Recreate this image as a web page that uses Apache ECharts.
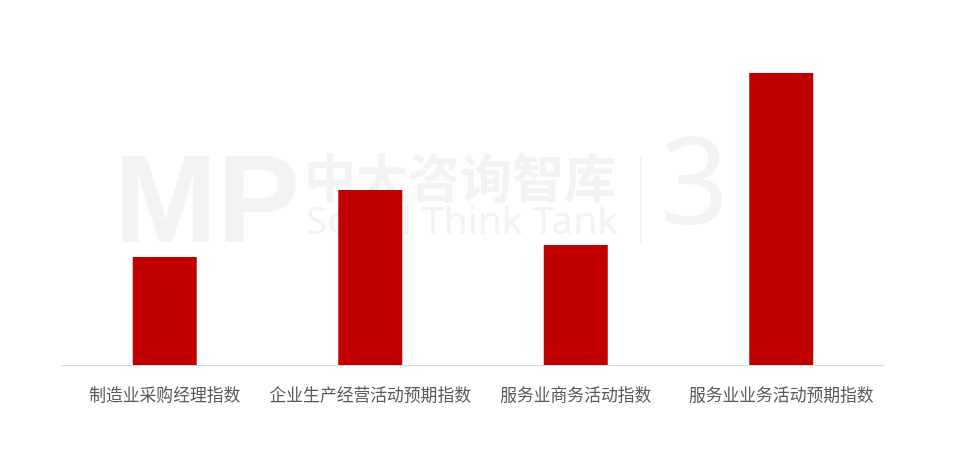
<!DOCTYPE html>
<html>
<head>
<meta charset="utf-8">
<script src="https://cdn.jsdelivr.net/npm/echarts@6/dist/echarts.min.js"></script>
<style>
html,body{margin:0;padding:0;background:#fff;}
#chart{width:980px;height:453px;}
</style>
</head>
<body>
<div id="chart"></div>
<script>
const categories = ['制造业采购经理指数', '企业生产经营活动预期指数', '服务业商务活动指数', '服务业业务活动预期指数'];
const values = [10.8, 17.5, 12.0, 29.2];

const chart = echarts.init(document.getElementById('chart'));
const wmColor = '#f3f3f3';
chart.setOption({
  animation: false,
  backgroundColor: '#ffffff',
  graphic: [
    { type: 'text', left: 114, top: 146, z: 0, silent: true,
      style: { text: 'MP', fill: wmColor, font: 'bold 124px "Liberation Sans", sans-serif' } },
    { type: 'text', left: 304, top: 152, z: 0, silent: true,
      style: { text: '中大咨询智库', fill: wmColor, font: 'bold 52px "Noto Sans CJK SC", sans-serif' } },
    { type: 'text', left: 306, top: 203, z: 0, silent: true,
      style: { text: 'Social Think Tank', fill: wmColor, font: '39px "Noto Sans", sans-serif' } },
    { type: 'rect', z: 0, silent: true, shape: { x: 640, y: 155, width: 2, height: 90 }, style: { fill: wmColor } },
    { type: 'text', left: 660, top: 130, z: 0, silent: true,
      style: { text: '3', fill: wmColor, font: '120px "Noto Sans", sans-serif' } }
  ],
  grid: { left: 62, right: 96, top: 65, bottom: 88 },
  xAxis: {
    type: 'category',
    data: categories,
    axisLine: { show: true, lineStyle: { color: '#d9d9d9', width: 1 } },
    axisTick: { show: false },
    axisLabel: { interval: 0, color: '#595959', fontSize: 16.8, margin: 21, fontFamily: '"Noto Sans CJK SC", sans-serif' }
  },
  yAxis: {
    type: 'value',
    min: 0,
    max: 30,
    show: false,
    splitLine: { show: false }
  },
  series: [{
    type: 'bar',
    data: values,
    barWidth: 64,
    itemStyle: { color: '#c00000' },
    z: 2
  }]
});
</script>
</body>
</html>
